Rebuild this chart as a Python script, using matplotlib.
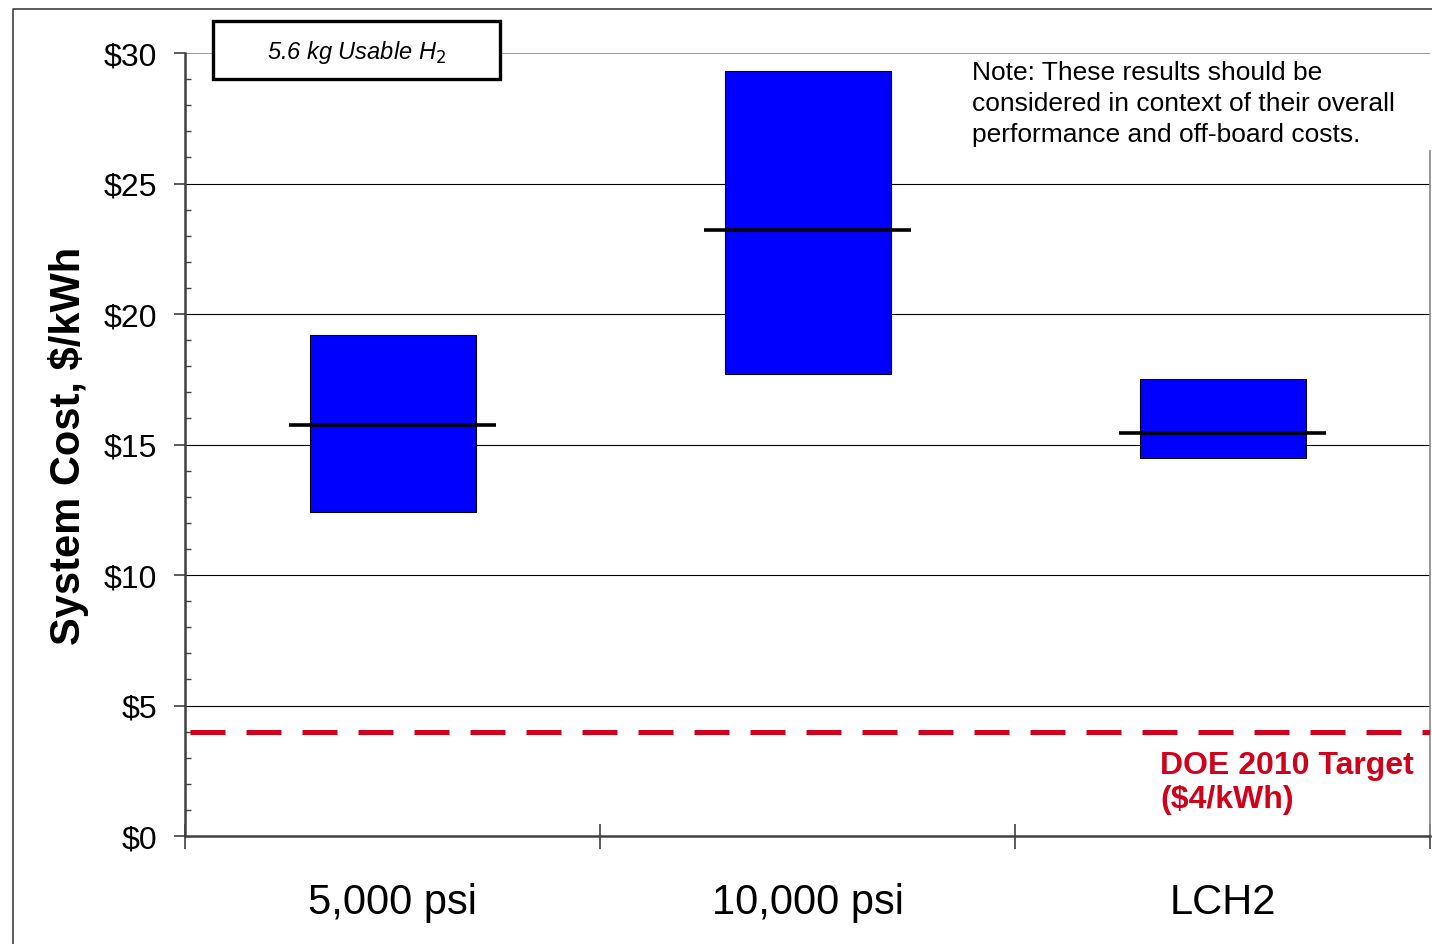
import numpy as np
import matplotlib.pyplot as plt
from matplotlib.patches import Rectangle
from matplotlib.lines import Line2D

plt.rcParams['font.family'] = ['Liberation Sans', 'DejaVu Sans']

categories = ['5,000 psi', '10,000 psi', 'LCH2']
low = [12.4, 17.7, 14.5]
high = [19.2, 29.3, 17.5]
mid = [15.75, 23.2, 15.45]
target = 4.0
yticks = [0, 5, 10, 15, 20, 25, 30]
ylabels = ['$0', '$5', '$10', '$15', '$20', '$25', '$30']

fig = plt.figure(figsize=(14.32, 9.45), dpi=100)
ax = fig.add_axes([185 / 1432, 108 / 945, 1245 / 1432, 783 / 945])

x = np.arange(len(categories)) + 0.5

# horizontal gridlines
for v in yticks[1:-1]:
    ax.axhline(v, color='black', lw=0.8, zorder=1)
ax.axhline(30, color='#888888', lw=1.2, zorder=1)

ax.bar(x, np.array(high) - np.array(low), bottom=low, width=0.4,
       color='#0000FF', edgecolor='black', linewidth=0.8, zorder=3)
ax.hlines(mid, x - 0.25, x + 0.25, color='black', lw=2.6, zorder=4)

ax.axhline(target, xmin=0.004, xmax=1, color='#D0021B', lw=3.6,
           dashes=(7, 4.2), zorder=5)

ax.set_xlim(0, 3)
ax.set_ylim(0, 30)
ax.set_yticks(yticks)
ax.set_yticklabels(ylabels, fontsize=23)
ax.set_yticks(np.arange(0, 30, 1), minor=True)
ax.tick_params(axis='y', which='major', direction='out', length=8, width=1.2,
               color='#404040', pad=12)
ax.tick_params(axis='y', which='minor', direction='in', length=4.5, width=1.0,
               color='#404040')

ax.set_xticks([0, 1, 2, 3])
ax.set_xticklabels([])
ax.set_xticks(x, minor=True)
ax.set_xticklabels(categories, minor=True, fontsize=30)
ax.tick_params(axis='x', which='major', direction='inout', length=18, width=1.2,
               color='#404040')
ax.tick_params(axis='x', which='minor', length=0, pad=33)

ax.spines['top'].set_visible(False)
ax.spines['left'].set_color('#404040')
ax.spines['left'].set_linewidth(1.8)
ax.spines['bottom'].set_color('#404040')
ax.spines['bottom'].set_linewidth(1.8)
ax.spines['right'].set_color('#888888')
ax.spines['right'].set_linewidth(1.2)
ax.spines['right'].set_bounds(0, 26.25)

ax.set_ylabel('System Cost, $/kWh', fontsize=30, fontweight='bold')
ax.yaxis.set_label_coords(-0.0775, 0.5)

ax.text(2.35, 3.3, 'DOE 2010 Target\n($4/kWh)', color='#D0021B', fontsize=23,
        fontweight='bold', va='top', ha='left', linespacing=1.18)

# note
fig.text(972 / 1432, 1 - 61 / 945,
         'Note: These results should be\nconsidered in context of their overall\n'
         'performance and off-board costs.',
         fontsize=19, va='top', ha='left', linespacing=1.38)

# label box
fig.patches.append(Rectangle((213 / 1432, 1 - 80 / 945), 287 / 1432, 58 / 945,
                             transform=fig.transFigure, facecolor='white',
                             edgecolor='black', linewidth=2.4, zorder=10))
fig.text(357 / 1432, 1 - 52 / 945, '5.6 kg Usable H$_2$', fontsize=17,
         style='italic', ha='center', va='center', zorder=11)

# outer border
fig.lines.append(Line2D([13 / 1432, 13 / 1432, 1], [0, 1 - 10 / 945, 1 - 10 / 945],
                        transform=fig.transFigure, color='#404040', lw=1.2))

fig.savefig('out.png', dpi=100)
